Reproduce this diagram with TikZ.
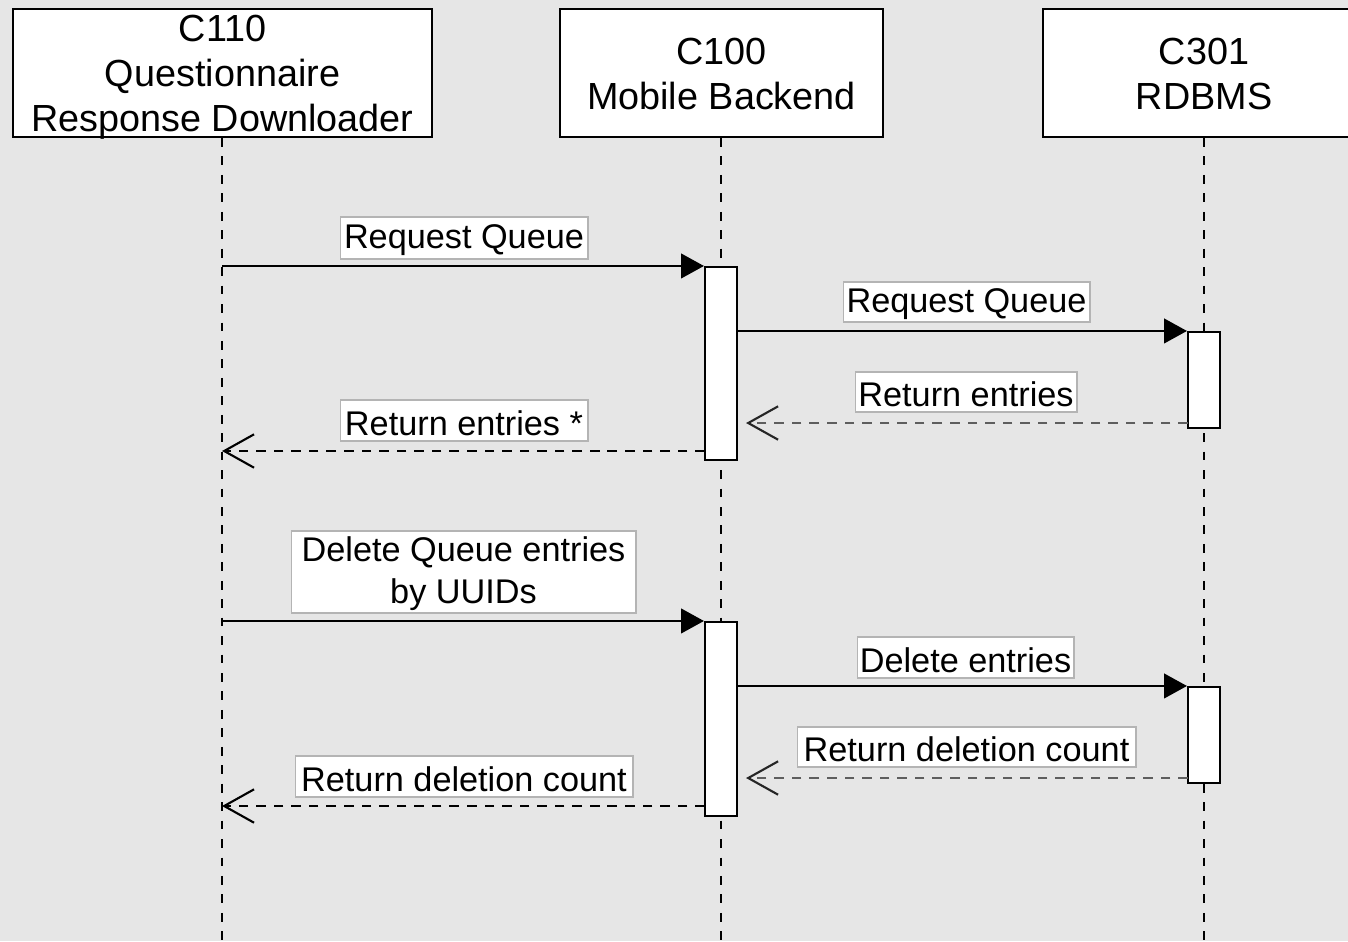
\documentclass[tikz,border=0pt]{standalone}
\usepackage{fontspec}
\setmainfont{Liberation Sans}
\usetikzlibrary{arrows.meta,calc}
\definecolor{bg}{HTML}{E6E6E6}
\definecolor{lblborder}{HTML}{B4B4B4}
\definecolor{retgray}{HTML}{5E5E5E}
\begin{document}
\begin{tikzpicture}[x=0.02cm,y=-0.02cm,
  head/.style={draw=black,line width=1.2pt,fill=white,minimum height=2.56cm,inner sep=0pt},
  headtext/.style={inner sep=0pt,align=center,font=\fontsize{21.5}{25.5}\selectfont},
  actbar/.style={draw=black,line width=1.2pt,fill=white,minimum width=0.64cm,inner sep=0pt},
  lbl/.style={draw=lblborder,line width=0.6pt,fill=white,inner sep=0pt},
  lbltext/.style={inner sep=0pt,align=center,font=\fontsize{19.5}{24}\selectfont},
  life/.style={draw=black,line width=1.1pt,dash pattern=on 5pt off 5.5pt},
  msg/.style={draw=black,line width=1.2pt,-{Triangle[length=13pt,width=14pt]}},
  ret/.style={draw=black,line width=1.2pt,dash pattern=on 5.5pt off 4.5pt,-{Straight Barb[length=17pt,width=19pt,line width=1.2pt]}},
  retg/.style={draw=retgray,line width=1.6pt,dash pattern=on 5.5pt off 4.5pt,-{Straight Barb[length=17pt,width=19pt,line width=1.2pt,color=black!85]}},
]
\useasboundingbox (0,0) rectangle (1348,941);
\clip (0,0) rectangle (1348,941);
\fill[bg] (0,0) rectangle (1348,941);

% headers
\node[head,minimum width=8.38cm] (h1) at (222.5,73) {};
\node[head,minimum width=6.46cm] (h2) at (721.5,73) {};
\node[head,minimum width=6.44cm] (h3) at (1204,73) {};
\node[headtext] (ht1) at ($(h1)+(0,4)$) {C110\\Questionnaire\\Response Downloader};
\node[headtext] (ht2) at ($(h2)+(0,1)$) {C100\\Mobile Backend};
\node[headtext] (ht3) at ($(h3)+(0,1)$) {C301\\RDBMS};

% lifelines
\coordinate (e1) at (222,941);
\coordinate (e2) at (721,941);
\coordinate (e3) at (1204,941);
\draw[life] (h1.south -| e1) -- (e1);
\draw[life] (h2.south -| e2) -- (e2);
\draw[life] (h3.south -| e3) -- (e3);

% activation bars
\node[actbar,minimum height=3.86cm] (a1) at (721,363.5) {};
\node[actbar,minimum height=1.92cm] (b1) at (1204,380) {};
\node[actbar,minimum height=3.88cm] (a2) at (721,719) {};
\node[actbar,minimum height=1.92cm] (b2) at (1204,735) {};

% messages
\draw[msg] (e1 |- a1.north) -- (a1.north west);
\draw[msg] (a1.east |- b1.north) -- (b1.north west);
\coordinate (r1) at (1188,423);
\draw[retg,shorten >=0.16cm] (r1) -- (a1.east |- r1);
\coordinate (r2) at (705,451);
\draw[ret] (r2) -- (e1 |- r2);

\draw[msg] (e1 |- a2.north) -- (a2.north west);
\draw[msg] (a2.east |- b2.north) -- (b2.north west);
\coordinate (r3) at (1188,778);
\draw[retg,shorten >=0.16cm] (r3) -- (a2.east |- r3);
\coordinate (r4) at (705,806);
\draw[ret] (r4) -- (e1 |- r4);

% labels
\node[lbl,minimum width=4.96cm,minimum height=0.84cm] (l1) at (464,238) {};
\node[lbl,minimum width=4.94cm,minimum height=0.80cm] (l2) at (966.5,302) {};
\node[lbl,minimum width=4.44cm,minimum height=0.80cm] (l3) at (966,392) {};
\node[lbl,minimum width=4.96cm,minimum height=0.82cm] (l4) at (464,420.5) {};
\node[lbl,minimum width=6.90cm,minimum height=1.64cm] (l5) at (463.5,572) {};
\node[lbl,minimum width=4.34cm,minimum height=0.82cm] (l6) at (965.5,657.5) {};
\node[lbl,minimum width=6.78cm,minimum height=0.80cm] (l7) at (966.5,747) {};
\node[lbl,minimum width=6.76cm,minimum height=0.82cm] (l8) at (464,776.5) {};
\node[lbltext] (t1) at ($(l1)+(0,2.5)$) {Request Queue};
\node[lbltext] (t2) at ($(l2)+(0,2.5)$) {Request Queue};
\node[lbltext] (t3) at ($(l3)+(0,2.5)$) {Return entries};
\node[lbltext] (t4) at ($(l4)+(0,2.5)$) {Return entries *};
\node[lbltext] (t5) at ($(l5)+(0,2)$) {Delete Queue entries\\by UUIDs};
\node[lbltext] (t6) at ($(l6)+(0,2.5)$) {Delete entries};
\node[lbltext] (t7) at ($(l7)+(0,2.5)$) {Return deletion count};
\node[lbltext] (t8) at ($(l8)+(0,2.5)$) {Return deletion count};
\end{tikzpicture}
\end{document}
